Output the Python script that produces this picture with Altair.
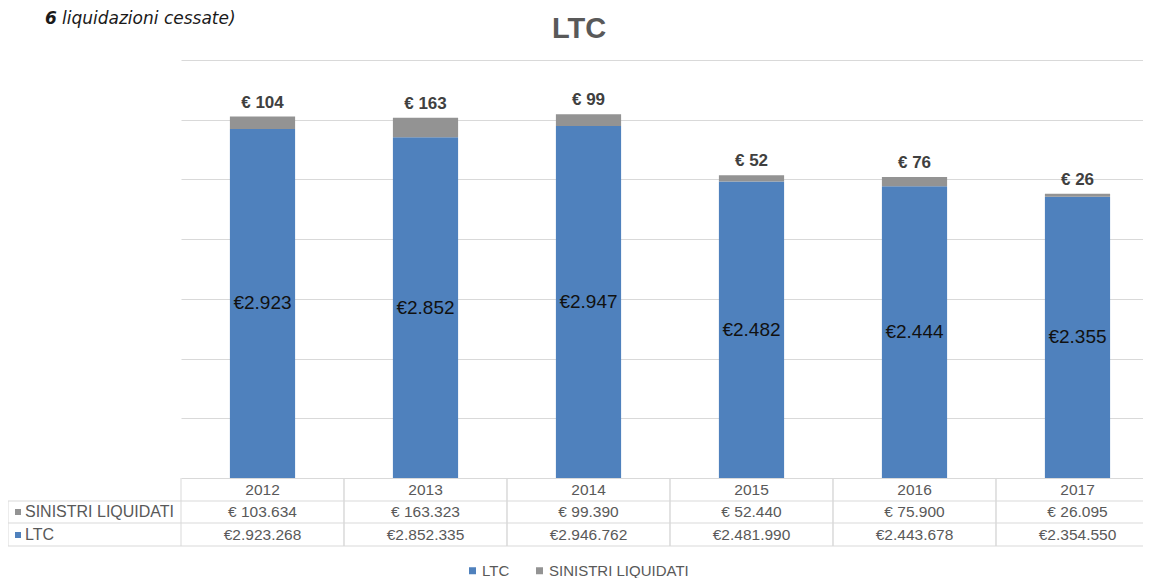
import altair as alt
import pandas as pd

# ---------------- data ----------------
years = ["2012", "2013", "2014", "2015", "2016", "2017"]
ltc_eur = [2923268, 2852335, 2946762, 2481990, 2443678, 2354550]
sinistri_eur = [103634, 163323, 99390, 52440, 75900, 26095]
series = ["LTC", "SINISTRI LIQUIDATI"]
colors = ["#4f81bd", "#939393"]
y_ticks = [0, 500, 1000, 1500, 2000, 2500, 3000, 3500]


def it_num(n):
    return f"{n:,}".replace(",", ".")


wide = pd.DataFrame({
    "year": years,
    "ltc_k": [v / 1000 for v in ltc_eur],
    "sin_k": [v / 1000 for v in sinistri_eur],
})
wide["total_k"] = wide["ltc_k"] + wide["sin_k"]
wide["ltc_lbl"] = ["€" + it_num(round(v / 1000)) for v in ltc_eur]
wide["sin_lbl"] = ["€ " + it_num(round(v / 1000)) for v in sinistri_eur]
wide["ltc_full"] = ["€" + it_num(v) for v in ltc_eur]
wide["sin_full"] = ["€ " + it_num(v) for v in sinistri_eur]

long = pd.DataFrame({
    "year": years * 2,
    "serie": [series[0]] * len(years) + [series[1]] * len(years),
    "value_k": [v / 1000 for v in ltc_eur] + [v / 1000 for v in sinistri_eur],
    "ord": [0] * len(years) + [1] * len(years),
})

one = pd.DataFrame({"d": [0]})

W = 962
BAND_RANGE = 978
H = 418
LEFT = 173
GRID = "#d9d9d9"
TXT = "#595959"
FONT = "Liberation Sans"
TFS = 15.5

xscale = alt.Scale(domain=years, range=[0, BAND_RANGE], paddingInner=0, paddingOuter=0)


def X(**kw):
    return alt.X("year:N", scale=xscale, axis=None, **kw)


yenc = alt.Y(
    "value_k:Q",
    stack="zero",
    scale=alt.Scale(domain=[0, 3500]),
    axis=alt.Axis(values=y_ticks, labels=False, ticks=False, domain=False,
                  grid=True, gridColor=GRID, gridWidth=1, title=None),
)

bars = alt.Chart(long).mark_bar(width={"band": 0.4}).encode(
    x=X(),
    y=yenc,
    color=alt.Color(
        "serie:N",
        scale=alt.Scale(domain=series, range=colors),
        legend=alt.Legend(
            orient="none", legendX=284, legendY=503, direction="horizontal",
            title=None, symbolType="square", symbolSize=49,
            labelFontSize=15, labelColor=TXT, labelFont=FONT,
            columnPadding=22, labelOffset=2, symbolStrokeWidth=0,
        ),
    ),
    order=alt.Order("ord:Q"),
)

inner = alt.Chart(wide).transform_calculate(mid_k="datum.ltc_k / 2").mark_text(
    fontSize=19, color="#111111", font=FONT
).encode(x=X(), y=alt.Y("mid_k:Q"), text="ltc_lbl:N")

tops = alt.Chart(wide).mark_text(
    fontSize=17, fontWeight="bold", color="#404040", font=FONT, baseline="bottom", dy=-5
).encode(x=X(), y=alt.Y("total_k:Q"), text="sin_lbl:N")

# ---------------- data table ----------------
row_year, row_sin, row_ltc = 430, 452, 475
tbl_year = alt.Chart(wide).mark_text(fontSize=TFS, color=TXT, font=FONT).encode(
    x=X(), y=alt.value(row_year), text="year:N")
tbl_sin = alt.Chart(wide).mark_text(fontSize=TFS, color=TXT, font=FONT).encode(
    x=X(), y=alt.value(row_sin), text="sin_full:N")
tbl_ltc = alt.Chart(wide).mark_text(fontSize=TFS, color=TXT, font=FONT).encode(
    x=X(), y=alt.value(row_ltc), text="ltc_full:N")

vlines_l = alt.Chart(wide).mark_rule(color=GRID, strokeWidth=1).encode(
    x=X(bandPosition=0), y=alt.value(H), y2=alt.value(486))
vlines_r = alt.Chart(wide).mark_rule(color=GRID, strokeWidth=1).encode(
    x=X(bandPosition=1), y=alt.value(H), y2=alt.value(486))
vline_hdr = alt.Chart(one).mark_rule(color=GRID, strokeWidth=1).encode(
    x=alt.value(-LEFT), y=alt.value(441), y2=alt.value(486))

hlines = [
    alt.Chart(one).mark_rule(color=GRID, strokeWidth=1).encode(
        x=alt.value(-LEFT), x2=alt.value(BAND_RANGE), y=alt.value(yy))
    for yy in (441, 463, 486)
]

hdr_sq_sin = alt.Chart(one).mark_square(size=36, color=colors[1], opacity=1).encode(
    x=alt.value(-163), y=alt.value(row_sin))
hdr_sq_ltc = alt.Chart(one).mark_square(size=36, color=colors[0], opacity=1).encode(
    x=alt.value(-163), y=alt.value(row_ltc))
hdr_txt_sin = alt.Chart(one).mark_text(
    text="SINISTRI LIQUIDATI", align="left", fontSize=16, color=TXT, font=FONT
).encode(x=alt.value(-156), y=alt.value(row_sin))
hdr_txt_ltc = alt.Chart(one).mark_text(
    text="LTC", align="left", fontSize=16, color=TXT, font=FONT
).encode(x=alt.value(-156), y=alt.value(row_ltc))

# ---------------- titles ----------------
title = alt.Chart(one).mark_text(
    text="LTC", fontSize=29, fontWeight="bold", color=TXT, font=FONT
).encode(x=alt.value(398), y=alt.value(-31))
note6 = alt.Chart(one).mark_text(
    text="6", fontSize=17, fontWeight="bold", fontStyle="italic", color="#1a1a1a",
    font="DejaVu Sans", align="left"
).encode(x=alt.value(-136), y=alt.value(-41))
note = alt.Chart(one).mark_text(
    text="liquidazioni cessate)", fontSize=17, fontStyle="italic", color="#1a1a1a",
    font="DejaVu Sans", align="left"
).encode(x=alt.value(-119), y=alt.value(-41))

chart = alt.layer(
    bars, inner, tops, tbl_year, tbl_sin, tbl_ltc, vlines_l, vlines_r, vline_hdr,
    *hlines, hdr_sq_sin, hdr_sq_ltc, hdr_txt_sin, hdr_txt_ltc, title, note6, note,
).properties(
    width=W, height=H,
    background="white",
    autosize=alt.AutoSizeParams(type="none"),
    padding={"left": LEFT, "top": 52, "right": 0, "bottom": 102},
).configure_view(stroke=None)

chart.save("out.html", embed_options={"renderer": "svg", "actions": False})
